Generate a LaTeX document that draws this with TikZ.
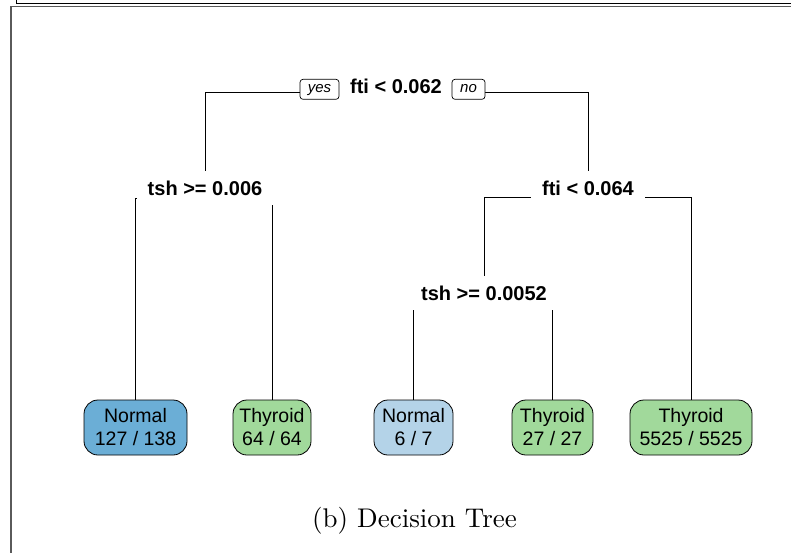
\documentclass[tikz,border=0pt]{standalone}
\usepackage{fontspec}
\newfontfamily\rsans{Liberation Sans}
\newfontfamily\capfont{lmroman10-regular}[Extension=.otf]
\usetikzlibrary{backgrounds}
\definecolor{blueA}{RGB}{107,174,214}
\definecolor{blueB}{RGB}{180,211,232}
\definecolor{greenA}{RGB}{161,217,155}
\definecolor{frameg}{RGB}{90,90,90}
\begin{document}
\begin{tikzpicture}[x=1pt,y=-1pt,
  edge/.style={line width=0.8pt, black},
  split/.style={fill=white, inner xsep=11pt, inner ysep=0pt, minimum height=34pt, font=\rsans\bfseries\fontsize{20}{24}\selectfont},
  yn/.style={draw, rounded corners=3pt, line width=0.7pt, fill=white, inner sep=0pt, text height=9pt, text depth=3pt, minimum height=20pt, font=\rsans\itshape\fontsize{15}{18}\selectfont},
  leaf/.style={draw, line width=0.8pt, rounded corners=14pt, minimum height=55pt, inner sep=0pt, align=center, font=\rsans\fontsize{19.5}{23}\selectfont},
]
\useasboundingbox (0,0) rectangle (791,552);
\draw[black, line width=0.8pt] (16,-2) -- (16,3.3) -- (795,3.3);
\draw[frameg, line width=1.2pt] (11,560) -- (11,6.7) -- (795,6.7);

% split labels
\node[split] (r) at (396,86) {fti < 0.062};
\node[split] (s1) at (205,188) {tsh >= 0.006};
\node[split] (s2) at (588,188) {fti < 0.064};
\node[split] (s3) at (484,293) {tsh >= 0.0052};

% yes / no
\node[yn, minimum width=39pt] (yes) at (319.5,89.3) {yes};
\node[yn, minimum width=33pt] (no) at (468.5,89.3) {no};

% leaves
\node[leaf, fill=blueA, minimum width=103pt] (l1) at (135.5,427.5) {Normal\\127 / 138};
\node[leaf, fill=greenA, minimum width=78pt] (l2) at (272,427.5) {Thyroid\\64 / 64};
\node[leaf, fill=blueB, minimum width=79pt] (l3) at (413.5,427.5) {Normal\\6 / 7};
\node[leaf, fill=greenA, minimum width=81pt] (l4) at (552.5,427.5) {Thyroid\\27 / 27};
\node[leaf, fill=greenA, minimum width=122pt] (l5) at (691,427.5) {Thyroid\\5525 / 5525};

\coordinate (j0) at (396,92);
\coordinate (j1) at (205,198);
\coordinate (j2) at (588,197);
\coordinate (j3) at (484,302);

\begin{pgfonlayer}{background}
\draw[edge] (s1.center) -- (s1.center |- j0) -- (s2.center |- j0) -- (s2.center);
\draw[edge] (l1.north) -- (l1.north |- j1) -- (l2.north |- j1) -- (l2.north);
\draw[edge] (s3.center) -- (s3.center |- j2) -- (l5.north |- j2) -- (l5.north);
\draw[edge] (l3.north) -- (l3.north |- j3) -- (l4.north |- j3) -- (l4.north);
\end{pgfonlayer}

\node[font=\capfont\fontsize{27}{32}\selectfont] (cap) at (414.5,521) {(b) Decision Tree};
\end{tikzpicture}
\end{document}
